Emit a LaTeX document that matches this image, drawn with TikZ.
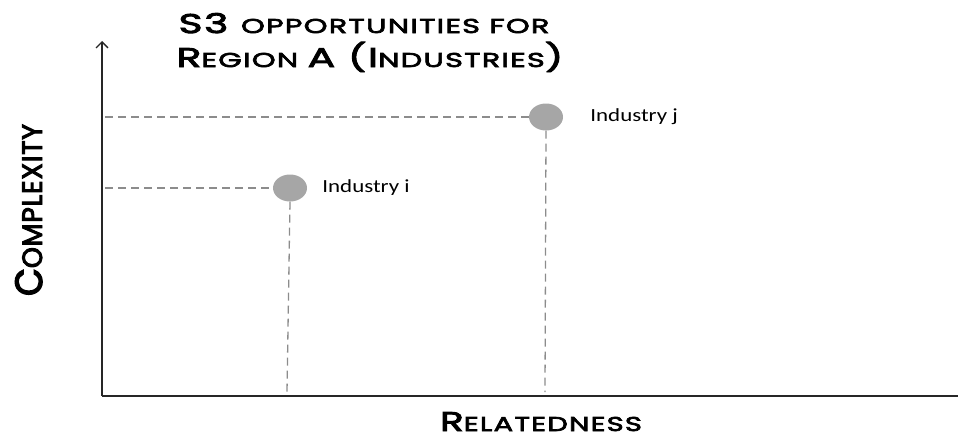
\documentclass[tikz,border=0pt]{standalone}
\usepackage{fontspec}
\usepackage{tikz}
\usetikzlibrary{arrows,arrows.meta,positioning,shapes.geometric}

\newfontfamily\titlefont[FakeStretch=1.52,LetterSpace=6,FakeBold=3.5]{Poppins}
\newfontfamily\xfont[FakeStretch=1.45,LetterSpace=6,FakeBold=3.5]{Poppins}
\newfontfamily\sidefont[FakeStretch=0.95,LetterSpace=3,FakeBold=3.5]{Poppins}
\newfontfamily\labelfont[FakeStretch=1.24]{Carlito}
\newcommand{\tbig}{\fontsize{27}{30}\selectfont}
\newcommand{\tsmall}{\fontsize{20}{24}\selectfont}
\newcommand{\sbig}{\fontsize{38}{40}\selectfont}
\newcommand{\ssmall}{\fontsize{28}{30}\selectfont}

\definecolor{axisgray}{HTML}{262626}
\definecolor{dotgray}{HTML}{A6A6A6}
\definecolor{dashgray}{HTML}{8C8C8C}

\tikzset{
  axisline/.style={line width=1.8pt, color=axisgray},
  guide/.style={dashgray, line width=1.3pt, dash pattern=on 8pt off 5pt},
  industry/.style={ellipse, fill=dotgray, minimum width=34pt, minimum height=27pt, inner sep=0pt},
  industrylabel/.style={font=\labelfont\fontsize{18.5}{20}\selectfont, anchor=west, inner sep=0pt},
  axistitle/.style={font=\titlefont, anchor=base, inner sep=0pt}
}

\begin{document}
\begin{tikzpicture}[x=1pt,y=-1pt]
\useasboundingbox (0,0) rectangle (958,439);
% axes
\coordinate (origin) at (102,396);
\coordinate (ytop) at (102,41);
\coordinate (xend) at (958,396);
\draw[axisline,-{Straight Barb[length=6pt,width=12pt,line width=1.4pt]}] (origin) -- (ytop);
\draw[axisline] (origin) -- (xend);
% industries
\node[industry] (indi) at (290,188) {};
\node[industry] (indj) at (546,117) {};
\node[industrylabel, right=15pt of indi] (labi) {Industry i};
\node[industrylabel, right=27pt of indj] (labj) {Industry j};
% guide lines
\coordinate (yi) at (105,188);
\coordinate (yj) at (105,117);
\coordinate (xi) at (287,392);
\coordinate (xj) at (545,392);
\draw[guide] (yi) -- (indi.west);
\draw[guide] (yj) -- (indj.west);
\draw[guide] (indi.south) -- (xi);
\draw[guide] (indj.south) -- (xj);
% titles
\node[axistitle] (titlea) at (364,33)
  {\tbig S3 \tsmall OPPORTUNITIES FOR};
\node[axistitle] (titleb) at (370,67)
  {\tbig R\tsmall EGION \tbig A (I\tsmall NDUSTRIES\tbig )};
\node[axistitle, font=\xfont] (xlabel) at (541,431)
  {\tbig R\tsmall ELATEDNESS};
\node[axistitle, font=\sidefont, rotate=90] (ylabel) at (42,210)
  {\sbig C\ssmall OMPLEXITY};
\end{tikzpicture}
\end{document}
